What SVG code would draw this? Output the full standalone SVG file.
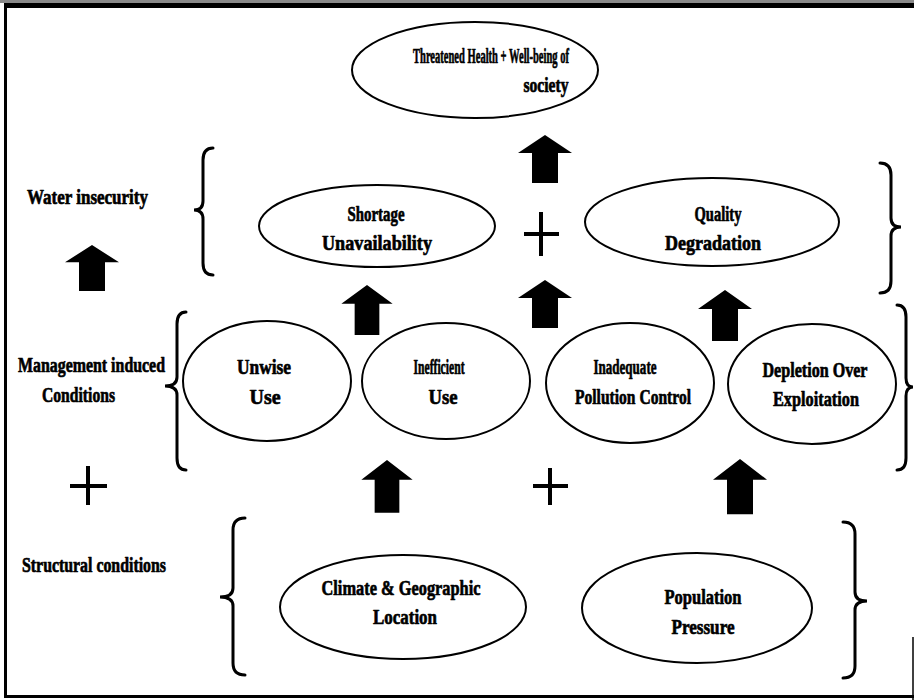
<svg xmlns="http://www.w3.org/2000/svg" xmlns:xlink="http://www.w3.org/1999/xlink" width="914" height="700" viewBox="0 0 914 700">
  <style>
    .node ellipse { fill: #fff; stroke: #000; stroke-width: 2; }
    text { font-family: "Liberation Serif", "Times New Roman", serif; font-weight: bold; font-size: 22px; fill: #000; stroke: #000; stroke-width: 0.7; stroke-linejoin: round; }
    .mid { text-anchor: middle; }
    .brace { fill: none; stroke: #000; stroke-width: 3; stroke-linecap: round; }
    .plus { stroke: #000; stroke-width: 4; }
    .frame { stroke: #000; fill: none; }
  </style>
  <defs>
    <!-- block up-arrow, origin at tip -->
    <path id="up" d="M0,0 L27,18 L13,18 L13,48 L-13,48 L-13,18 L-27,18 Z" fill="#000"/>
  </defs>

  <rect width="914" height="700" fill="#fff"/>

  <!-- page frame -->
  <g id="frame">
    <rect x="0" y="0" width="914" height="3" fill="#8a8a8a"/>
    <line class="frame" x1="4" y1="5.5" x2="914" y2="5.5" stroke-width="5"/>
    <line class="frame" x1="5.5" y1="4" x2="5.5" y2="698" stroke-width="3"/>
    <line class="frame" x1="4" y1="696.5" x2="914" y2="696.5" stroke-width="3"/>
    <line class="frame" x1="913" y1="637" x2="913" y2="700" stroke-width="1.5"/>
  </g>

  <!-- row labels -->
  <g id="labels">
    <text x="27" y="204" textLength="121" lengthAdjust="spacingAndGlyphs">Water insecurity</text>
    <text x="18" y="372" textLength="147" lengthAdjust="spacingAndGlyphs">Management induced</text>
    <text x="42" y="402" textLength="73" lengthAdjust="spacingAndGlyphs">Conditions</text>
    <text x="22" y="572" textLength="144" lengthAdjust="spacingAndGlyphs">Structural conditions</text>
  </g>

  <!-- braces -->
  <g id="braces">
    <path class="brace" d="M213,148 Q203,148 203,160 L203,201 Q203,210 194,210 Q203,210 203,219 L203,263 Q203,275 213,275"/>
    <path class="brace" d="M880,163 Q891,163 891,175 L891,218 Q891,227 901,227 Q891,227 891,236 L891,281 Q891,293 880,293"/>
    <path class="brace" d="M186,312 Q177,312 177,324 L177,377 Q177,386 165,386 Q177,386 177,395 L177,458 Q177,470 186,470"/>
    <path class="brace" d="M897,305 Q906,305 906,317 L906,378 Q906,387 913,387 Q906,387 906,396 L906,458 Q906,470 897,470"/>
    <path class="brace" d="M245,518 Q233,518 233,530 L233,588 Q233,597 220,597 Q233,597 233,606 L233,663 Q233,675 245,675"/>
    <path class="brace" d="M843,522 Q855,522 855,534 L855,592 Q855,601 867,601 Q855,601 855,610 L855,666 Q855,678 843,678"/>
  </g>

  <!-- nodes -->
  <g id="health" class="node">
    <ellipse cx="475" cy="70" rx="123" ry="48"/>
    <text class="mid" x="491" y="63" textLength="156" lengthAdjust="spacingAndGlyphs">Threatened Health + Well-being of</text>
    <text class="mid" x="546" y="92" textLength="45" lengthAdjust="spacingAndGlyphs">society</text>
  </g>
  <g id="shortage" class="node">
    <ellipse cx="377" cy="226" rx="118" ry="41"/>
    <text class="mid" x="376" y="221" textLength="57" lengthAdjust="spacingAndGlyphs">Shortage</text>
    <text class="mid" x="377" y="250" textLength="110" lengthAdjust="spacingAndGlyphs">Unavailability</text>
  </g>
  <g id="quality" class="node">
    <ellipse cx="712" cy="222" rx="127" ry="44"/>
    <text class="mid" x="718" y="221" textLength="47" lengthAdjust="spacingAndGlyphs">Quality</text>
    <text class="mid" x="713" y="250" textLength="96" lengthAdjust="spacingAndGlyphs">Degradation</text>
  </g>
  <g id="unwise" class="node">
    <ellipse cx="267" cy="381" rx="84" ry="60"/>
    <text class="mid" x="264" y="374" textLength="54" lengthAdjust="spacingAndGlyphs">Unwise</text>
    <text class="mid" x="265" y="404" textLength="31" lengthAdjust="spacingAndGlyphs">Use</text>
  </g>
  <g id="inefficient" class="node">
    <ellipse cx="446" cy="381" rx="84" ry="58"/>
    <text class="mid" x="439" y="374" textLength="51" lengthAdjust="spacingAndGlyphs">Inefficient</text>
    <text class="mid" x="443" y="404" textLength="29" lengthAdjust="spacingAndGlyphs">Use</text>
  </g>
  <g id="pollution" class="node">
    <ellipse cx="630" cy="383" rx="84" ry="60"/>
    <text class="mid" x="625" y="374" textLength="63" lengthAdjust="spacingAndGlyphs">Inadequate</text>
    <text class="mid" x="633" y="404" textLength="116" lengthAdjust="spacingAndGlyphs">Pollution Control</text>
  </g>
  <g id="depletion" class="node">
    <ellipse cx="812" cy="384" rx="84" ry="60"/>
    <text class="mid" x="815" y="377" textLength="105" lengthAdjust="spacingAndGlyphs">Depletion Over</text>
    <text class="mid" x="816" y="406" textLength="86" lengthAdjust="spacingAndGlyphs">Exploitation</text>
  </g>
  <g id="climate" class="node">
    <ellipse cx="403" cy="607" rx="123" ry="52"/>
    <text class="mid" x="401" y="595" textLength="159" lengthAdjust="spacingAndGlyphs">Climate &amp; Geographic</text>
    <text class="mid" x="405" y="624" textLength="64" lengthAdjust="spacingAndGlyphs">Location</text>
  </g>
  <g id="population" class="node">
    <ellipse cx="697" cy="608" rx="115" ry="55"/>
    <text class="mid" x="703" y="604" textLength="77" lengthAdjust="spacingAndGlyphs">Population</text>
    <text class="mid" x="703" y="634" textLength="63" lengthAdjust="spacingAndGlyphs">Pressure</text>
  </g>

  <!-- connectors: block arrows and plus signs -->
  <g id="connectors">
    <use xlink:href="#up" href="#up" transform="translate(92,245) scale(1,0.96)"/>
    <use xlink:href="#up" href="#up" transform="translate(545,135)"/>
    <use xlink:href="#up" href="#up" transform="translate(367,285) scale(0.95,1.04)"/>
    <use xlink:href="#up" href="#up" transform="translate(545,280)"/>
    <use xlink:href="#up" href="#up" transform="translate(725,290) scale(1,1.06)"/>
    <use xlink:href="#up" href="#up" transform="translate(387,460) scale(0.95,1.1)"/>
    <use xlink:href="#up" href="#up" transform="translate(740,459) scale(1,1.15)"/>

    <line class="plus" x1="524" y1="234" x2="559" y2="234"/>
    <line class="plus" x1="541" y1="212" x2="541" y2="256"/>
    <line class="plus" x1="70" y1="486" x2="107" y2="486"/>
    <line class="plus" x1="88" y1="466" x2="88" y2="505"/>
    <line class="plus" x1="533" y1="486" x2="568" y2="486"/>
    <line class="plus" x1="550" y1="468" x2="550" y2="505"/>
  </g>
</svg>
